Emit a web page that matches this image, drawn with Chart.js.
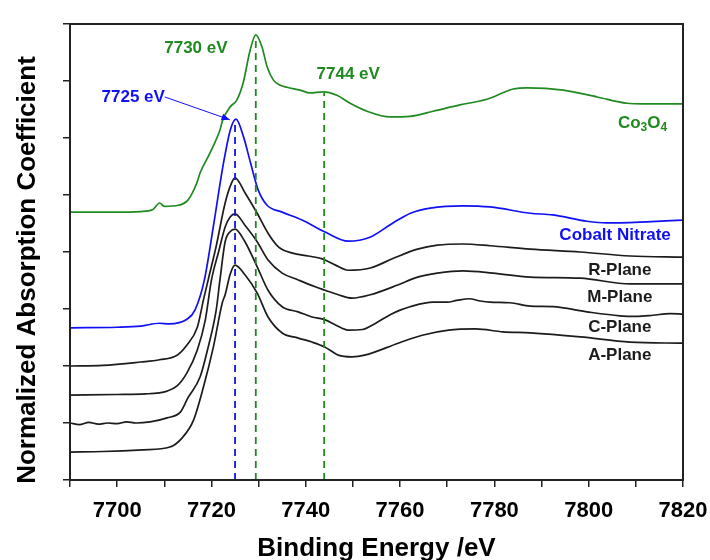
<!DOCTYPE html>
<html>
<head>
<meta charset="utf-8">
<script src="https://cdn.jsdelivr.net/npm/chart.js@4/dist/chart.umd.min.js"></script>
<style>
    body { margin: 0; background: #fff; }
</style>
</head>
<body>
<canvas id="chart" width="710" height="560"></canvas>
<script>

// Energies (eV) and normalized absorption
const co3o4E = [7690, 7700, 7705, 7707.5, 7709, 7710, 7713, 7715, 7716.9, 7717.6, 7719.7, 7721.8, 7722.4, 7723.9, 7725.4, 7726.7, 7728.2, 7729.4, 7730.7, 7731.8, 7733.1, 7734.5, 7736, 7738.8, 7740.9, 7743.7, 7746.6, 7749.4, 7753, 7757.9, 7762.1, 7767, 7772.7, 7778.4, 7784, 7787, 7794.6, 7801.8, 7808.1, 7811.5, 7820]
const co3o4Y = [4.70, 4.70, 4.71, 4.74, 4.86, 4.80, 4.82, 4.91, 5.21, 5.39, 5.74, 6.14, 6.32, 6.54, 6.67, 6.96, 7.54, 7.81, 7.60, 7.25, 7.02, 6.93, 6.89, 6.84, 6.79, 6.81, 6.75, 6.61, 6.47, 6.37, 6.38, 6.47, 6.58, 6.68, 6.86, 6.88, 6.84, 6.72, 6.61, 6.60, 6.60]

const nitrateE = [7690, 7700, 7705, 7709, 7711, 7714.8, 7716.5, 7718.5, 7720.5, 7722.4, 7724, 7725.2, 7726.8, 7728.3, 7729.9, 7731.8, 7735, 7739.2, 7744.1, 7749, 7753.6, 7758.5, 7762.2, 7766.4, 7773.4, 7779.1, 7787.6, 7792.4, 7799.6, 7803.8, 7812.3, 7820]
const nitrateY = [2.67, 2.68, 2.70, 2.75, 2.74, 2.82, 2.98, 3.51, 4.50, 5.49, 6.14, 6.33, 6.02, 5.56, 5.09, 4.82, 4.70, 4.56, 4.35, 4.19, 4.26, 4.51, 4.68, 4.77, 4.81, 4.79, 4.68, 4.65, 4.54, 4.51, 4.53, 4.56]

const rPlaneE = [7690, 7697, 7705, 7709, 7712.7, 7714.8, 7717, 7718.3, 7719.3, 7721, 7722.9, 7724.2, 7725, 7727.1, 7729.7, 7732, 7734.2, 7737.2, 7740.5, 7743.5, 7746.3, 7749, 7753.7, 7758.6, 7763.7, 7767.9, 7773.4, 7779.1, 7787.6, 7798.2, 7808.8, 7820]
const rPlaneY = [2.00, 2.01, 2.07, 2.11, 2.19, 2.37, 2.68, 3.16, 3.51, 4.10, 4.86, 5.20, 5.30, 5.04, 4.68, 4.33, 4.09, 3.98, 3.93, 3.88, 3.77, 3.68, 3.72, 3.89, 4.05, 4.12, 4.14, 4.11, 4.05, 4.00, 3.93, 3.91]

const mPlaneE = [7690, 7700, 7706, 7710.6, 7712.7, 7714.8, 7717, 7718.7, 7720, 7721.5, 7722.9, 7724, 7725, 7727.1, 7729.7, 7732, 7735, 7738.4, 7742, 7744.1, 7746.9, 7749.8, 7753.7, 7759.5, 7763.7, 7767.9, 7773.4, 7779.7, 7787.6, 7798.2, 7808.8, 7820]
const mPlaneY = [1.49, 1.50, 1.51, 1.56, 1.65, 1.88, 2.28, 2.81, 3.51, 4.00, 4.44, 4.62, 4.67, 4.47, 4.18, 3.86, 3.63, 3.51, 3.39, 3.33, 3.25, 3.19, 3.25, 3.42, 3.56, 3.63, 3.67, 3.63, 3.56, 3.54, 3.44, 3.44]

const cPlaneE = [7690, 7692, 7694, 7696, 7698, 7700, 7702, 7704, 7707, 7710.6, 7713.4, 7715, 7717.6, 7719.3, 7721, 7721.8, 7722.9, 7724, 7725, 7727.1, 7729.7, 7732, 7735, 7738.4, 7741.3, 7744.1, 7746.3, 7749, 7752, 7755, 7757.9, 7760, 7762.1, 7767, 7770, 7772, 7774.7, 7777, 7779.1, 7783.3, 7787.6, 7792.4, 7799.6, 7806.6, 7810, 7813.6, 7817.2, 7820]
const cPlaneY = [1.00, 0.97, 1.01, 0.98, 1.00, 0.99, 1.02, 1.00, 1.02, 1.09, 1.19, 1.44, 1.81, 2.33, 2.98, 3.51, 4.18, 4.36, 4.40, 4.18, 3.74, 3.33, 3.04, 2.95, 2.86, 2.81, 2.72, 2.63, 2.64, 2.76, 2.90, 2.98, 3.04, 3.12, 3.12, 3.15, 3.18, 3.14, 3.12, 3.11, 3.05, 3.04, 2.95, 2.88, 2.87, 2.89, 2.92, 2.91]

const aPlaneE = [7690, 7697, 7705.5, 7711.2, 7713.8, 7716.2, 7718.3, 7720.4, 7722.3, 7722.9, 7724, 7725, 7727.1, 7729.7, 7732, 7735, 7738.4, 7741.3, 7744.1, 7746.9, 7749.8, 7752.5, 7759.6, 7764.7, 7770.3, 7776, 7781.8, 7787.6, 7798.2, 7808.8, 7820]
const aPlaneY = [0.49, 0.50, 0.53, 0.58, 0.74, 1.05, 1.63, 2.33, 3.11, 3.25, 3.62, 3.77, 3.60, 3.28, 2.86, 2.58, 2.49, 2.42, 2.33, 2.19, 2.16, 2.19, 2.40, 2.54, 2.63, 2.65, 2.60, 2.58, 2.51, 2.42, 2.40]

// Dashed marker lines (energy, top of line)
const markerE = [7725, 7729.4, 7743.9]
const markerTop = [6.32, 7.8, 6.79]

// Annotation texts and where they sit (data coords)
const peakLabels = ['7725 eV', '7730 eV', '7744 eV']
const peakLabelE = [7703.4, 7716.7, 7749]
const peakLabelY = [6.72, 7.58, 7.11]
const seriesLabels = ['Cobalt Nitrate', 'R-Plane', 'M-Plane', 'C-Plane', 'A-Plane']
const seriesLabelY = [4.30, 3.68, 3.21, 2.68, 2.18]

const GREEN = '#1f8a1f'
const BLUE = '#1010f5'
const BLACK = '#1c1c1c'
const FONT = '"Liberation Sans", Arial, sans-serif'

const toPoints = (xs, ys) => xs.map((x, i) => ({ x, y: ys[i] }))

const curve = (xs, ys, color) => ({
    data: toPoints(xs, ys),
    borderColor: color,
    borderWidth: 1.7,
    pointRadius: 0,
    cubicInterpolationMode: 'monotone',
})

// vertical dashed lines
const markers = markerE.map((e, i) => ({
    data: [{ x: e, y: 0 }, { x: e, y: markerTop[i] }],
    borderColor: i == 0 ? BLUE : GREEN,
    borderWidth: 1.8,
    borderDash: [7, 5],
    pointRadius: 0,
}))

const datasets = [
    ...markers,
    curve(co3o4E, co3o4Y, GREEN),
    curve(nitrateE, nitrateY, BLUE),
    curve(rPlaneE, rPlaneY, BLACK),
    curve(mPlaneE, mPlaneY, BLACK),
    curve(cPlaneE, cPlaneY, BLACK),
    curve(aPlaneE, aPlaneY, BLACK),
]

// Frame, texts, arrow and axis titles
const decor = {
    id: 'decor',
    afterDraw(chart) {
        const { ctx, chartArea: a, scales: { x, y } } = chart
        ctx.save()

        // box round the plot
        ctx.strokeStyle = '#222'
        ctx.lineWidth = 2
        ctx.strokeRect(a.left, a.top, a.right - a.left, a.bottom - a.top)

        // peak labels
        ctx.font = `bold 17px ${FONT}`
        ctx.textAlign = 'center'
        ctx.textBaseline = 'middle'
        peakLabels.forEach((t, i) => {
            ctx.fillStyle = i == 0 ? BLUE : GREEN
            ctx.fillText(t, x.getPixelForValue(peakLabelE[i]), y.getPixelForValue(peakLabelY[i]))
        })

        // arrow to the nitrate peak
        const x0 = x.getPixelForValue(7710.1), y0 = y.getPixelForValue(6.72)
        const x1 = x.getPixelForValue(7723.9), y1 = y.getPixelForValue(6.32)
        const ang = Math.atan2(y1 - y0, x1 - x0)
        ctx.strokeStyle = BLUE
        ctx.fillStyle = BLUE
        ctx.lineWidth = 1
        ctx.beginPath()
        ctx.moveTo(x0, y0)
        ctx.lineTo(x1, y1)
        ctx.stroke()
        ctx.beginPath()
        ctx.moveTo(x1, y1)
        ctx.lineTo(x1 - 9 * Math.cos(ang - 0.4), y1 - 9 * Math.sin(ang - 0.4))
        ctx.lineTo(x1 - 9 * Math.cos(ang + 0.4), y1 - 9 * Math.sin(ang + 0.4))
        ctx.closePath()
        ctx.fill()

        // series labels
        seriesLabels.forEach((t, i) => {
            ctx.fillStyle = i == 0 ? BLUE : BLACK
            ctx.fillText(t, x.getPixelForValue(i == 0 ? 7805.6 : 7806.6), y.getPixelForValue(seriesLabelY[i]))
        })

        // Co3O4 with subscripts
        let cx = x.getPixelForValue(7806.2)
        const cy = y.getPixelForValue(6.26)
        ctx.fillStyle = GREEN
        ctx.textAlign = 'left'
        const parts = [['Co', 17, 0], ['3', 12, 5], ['O', 17, 0], ['4', 12, 5]]
        for (const [t, size, dy] of parts) {
            ctx.font = `bold ${size}px ${FONT}`
            ctx.fillText(t, cx, cy + dy)
            cx += ctx.measureText(t).width
        }

        // axis titles
        ctx.fillStyle = '#000'
        ctx.font = `bold 26px ${FONT}`
        ctx.textAlign = 'center'
        ctx.fillText('Binding Energy /eV', (a.left + a.right) / 2, chart.height - 11)
        ctx.translate(28, 270)
        ctx.rotate(-Math.PI / 2)
        ctx.fillText('Normalized Absorption Coefficient', 0, 0)

        ctx.restore()
    }
}

const ctx = document.getElementById('chart')

new Chart(ctx, {
    type: 'line',
    data: { datasets },
    options: {
        responsive: false,
        animation: false,
        layout: { padding: { top: 24, right: 27 } },
        plugins: {
            legend: { display: false },
            tooltip: { enabled: false },
        },
        scales: {
            x: {
                type: 'linear',
                min: 7690,
                max: 7820,
                afterFit: s => { s.height = 80; s.paddingLeft = 0; s.paddingRight = 0 },
                border: { color: '#222', width: 2 },
                grid: { drawOnChartArea: false, tickLength: 7, color: '#222', lineWidth: 1.5 },
                ticks: {
                    stepSize: 10,
                    autoSkip: false,
                    maxRotation: 0,
                    padding: 11,
                    color: '#000',
                    font: { family: FONT, size: 22, weight: 'bold' },
                    callback: v => v % 20 == 0 ? v : '',
                },
            },
            y: {
                min: 0,
                max: 8,
                afterFit: s => { s.width = 70; s.paddingTop = 0; s.paddingBottom = 0 },
                border: { color: '#222', width: 2 },
                grid: { drawOnChartArea: false, tickLength: 7, color: '#222', lineWidth: 1.5 },
                ticks: { stepSize: 1, display: false },
            },
        },
    },
    plugins: [decor],
})
</script>
</body>
</html>
